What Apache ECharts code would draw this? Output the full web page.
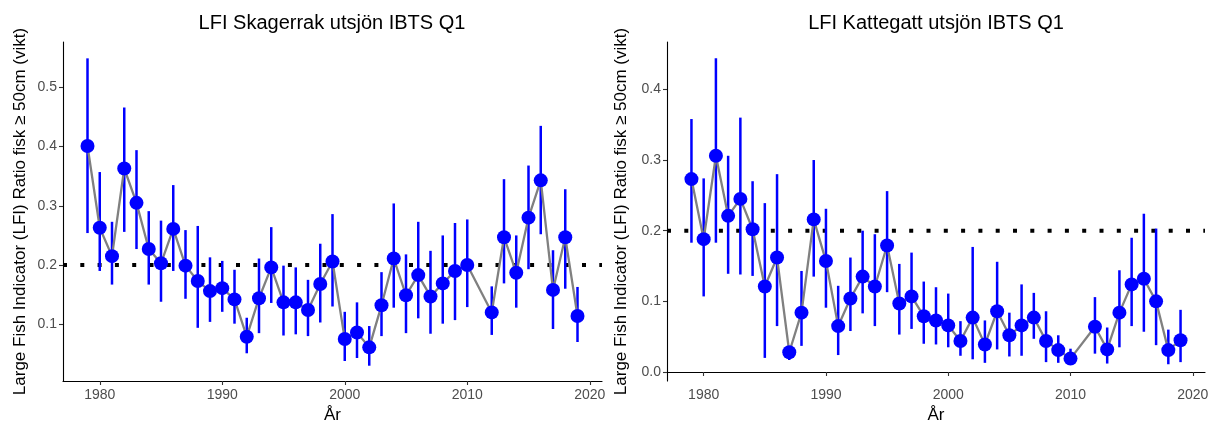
<!DOCTYPE html>
<html>
<head>
<meta charset="utf-8">
<script src="https://cdn.jsdelivr.net/npm/echarts@6/dist/echarts.min.js"></script>
<style>
html,body{margin:0;padding:0;background:#fff;}
#chart{width:1217px;height:423px;}
</style>
</head>
<body>
<div id="chart"></div>
<script>
// ---- Data ----
const skTitle = 'LFI Skagerrak utsjön IBTS Q1';
const kgTitle = 'LFI Kattegatt utsjön IBTS Q1';
const yLabel = 'Large Fish Indicator (LFI) Ratio fisk ≥ 50cm (vikt)';
const xLabel = 'År';
const refLevel = 0.2;

const skYears = [1979,1980,1981,1982,1983,1984,1985,1986,1987,1988,1989,1990,1991,1992,1993,1994,1995,1996,1997,1998,1999,
  2000,2001,2002,2003,2004,2005,2006,2007,2008,2009,2010,
  2012,2013,2014,2015,2016,2017,2018,2019];
const skLfi = [0.401,0.263,0.215,0.363,0.305,0.227,0.203,0.261,0.199,0.173,0.156,0.161,0.142,0.079,0.144,0.196,0.137,0.137,0.124,0.168,0.206,
  0.075,0.086,0.061,0.132,0.211,0.149,0.183,0.147,0.169,0.190,0.200,
  0.120,0.247,0.187,0.280,0.343,0.158,0.247,0.114];
const skLow = [0.254,0.190,0.167,0.256,0.227,0.167,0.138,0.190,0.143,0.094,0.104,0.121,0.101,0.051,0.085,0.136,0.081,0.083,0.080,0.103,0.130,
  0.038,0.043,0.030,0.080,0.128,0.085,0.110,0.084,0.101,0.107,0.129,
  0.082,0.169,0.128,0.193,0.252,0.092,0.160,0.070];
const skHigh = [0.549,0.357,0.273,0.466,0.394,0.291,0.275,0.335,0.259,0.266,0.213,0.207,0.192,0.111,0.211,0.264,0.199,0.196,0.175,0.236,0.286,
  0.121,0.137,0.097,0.188,0.304,0.218,0.273,0.224,0.250,0.271,0.277,
  0.164,0.345,0.250,0.368,0.435,0.225,0.328,0.163];

const kgYears = [1979,1980,1981,1982,1983,1984,1985,1986,1987,1988,1989,1990,1991,1992,1993,1994,1995,1996,1997,1998,1999,
  2000,2001,2002,2003,2004,2005,2006,2007,2008,2009,2010,
  2012,2013,2014,2015,2016,2017,2018,2019];
const kgLfi = [0.273,0.188,0.306,0.221,0.245,0.202,0.121,0.162,0.028,0.084,0.216,0.157,0.065,0.104,0.135,0.121,0.179,0.097,0.107,0.079,0.073,
  0.066,0.044,0.077,0.039,0.086,0.052,0.066,0.077,0.044,0.031,0.019,
  0.064,0.032,0.084,0.124,0.132,0.100,0.031,0.045];
const kgLow = [0.183,0.107,0.183,0.139,0.138,0.136,0.020,0.065,0.017,0.037,0.135,0.091,0.024,0.058,0.083,0.065,0.113,0.053,0.061,0.040,0.039,
  0.035,0.023,0.018,0.013,0.032,0.022,0.023,0.047,0.014,0.013,0.011,
  0.026,0.012,0.035,0.065,0.057,0.038,0.011,0.014];
const kgHigh = [0.358,0.274,0.444,0.306,0.360,0.270,0.239,0.280,0.036,0.143,0.300,0.231,0.122,0.162,0.200,0.195,0.256,0.153,0.169,0.128,0.120,
  0.111,0.072,0.177,0.073,0.156,0.084,0.124,0.112,0.086,0.052,0.033,
  0.106,0.063,0.144,0.190,0.224,0.203,0.060,0.088];

const xTicks = [1980,1990,2000,2010,2020];
const skYTicks = [0.1,0.2,0.3,0.4,0.5];
const kgYTicks = [0.0,0.1,0.2,0.3,0.4];

// ---- Chart ----
const FONT = '"Liberation Sans", Arial, sans-serif';
const SZ = {tick:14, name:17, title:20};
const chart = echarts.init(document.getElementById('chart'), null, {renderer:'canvas'});

function xAxis(gi) {
  return {
    type:'value', gridIndex:gi, min:1977, max:2021,
    name: xLabel, nameLocation:'middle', nameGap:23,
    nameTextStyle:{color:'#000', fontSize:SZ.name, fontFamily:FONT},
    axisLine:{show:true, lineStyle:{color:'#000', width:1.1}},
    axisTick:{show:true, length:4, customValues:xTicks, lineStyle:{color:'#333', width:1.1}},
    axisLabel:{customValues:xTicks, color:'#4d4d4d', fontSize:SZ.tick, fontFamily:FONT, margin:7,
      formatter:v => String(v)},
    splitLine:{show:false}
  };
}
function yAxis(gi, min, max, ticks, gap) {
  return {
    type:'value', gridIndex:gi, min:min, max:max,
    name: yLabel, nameLocation:'middle', nameGap:gap, nameRotate:90,
    nameTextStyle:{color:'#000', fontSize:SZ.name, fontFamily:FONT},
    axisLine:{show:true, lineStyle:{color:'#000', width:1.1}},
    axisTick:{show:true, length:4, customValues:ticks, lineStyle:{color:'#333', width:1.1}},
    axisLabel:{customValues:ticks, color:'#4d4d4d', fontSize:SZ.tick, fontFamily:FONT, margin:6,
      formatter:v => v.toFixed(1)},
    splitLine:{show:false}
  };
}
function seriesFor(gi, years, lfi, low, high) {
  const errData = years.map((y,i)=>[y, low[i], high[i]]);
  const ptData = years.map((y,i)=>[y, lfi[i]]);
  return [
    {type:'line', xAxisIndex:gi, yAxisIndex:gi, data:[[1977,refLevel],[2021,refLevel]],
      symbol:'none', silent:true, z:1,
      lineStyle:{color:'#000', width:4, type:[4,13.3], cap:'butt'}},
    {type:'custom', xAxisIndex:gi, yAxisIndex:gi, data:errData, z:2,
      renderItem:(params, api)=>{
        const p1 = api.coord([api.value(0), api.value(1)]);
        const p2 = api.coord([api.value(0), api.value(2)]);
        return {type:'line', shape:{x1:p1[0], y1:p1[1], x2:p2[0], y2:p2[1]},
          style:{stroke:'#0000ff', lineWidth:2.5}};
      }},
    {type:'line', xAxisIndex:gi, yAxisIndex:gi, data:ptData, symbol:'none', z:3,
      lineStyle:{color:'#808080', width:2.3}},
    {type:'scatter', xAxisIndex:gi, yAxisIndex:gi, data:ptData, symbol:'circle', symbolSize:14, z:4,
      itemStyle:{color:'#0000ff', opacity:1}}
  ];
}

chart.setOption({
  animation:false,
  backgroundColor:'#fff',
  grid:[
    {left:63, top:42, width:539, height:339, containLabel:false, outerBoundsMode:'none'},
    {left:667, top:42, width:538, height:339, containLabel:false, outerBoundsMode:'none'}
  ],
  xAxis:[xAxis(0), xAxis(1)],
  yAxis:[yAxis(0, 0.0042, 0.5766, skYTicks, 34), yAxis(1, -0.0127, 0.467, kgYTicks, 37)],
  graphic:[
    {type:'text', x:332, y:23, style:{text:skTitle, textAlign:'center', textVerticalAlign:'middle', font:SZ.title + 'px ' + FONT, fill:'#000'}},
    {type:'text', x:936, y:23, style:{text:kgTitle, textAlign:'center', textVerticalAlign:'middle', font:SZ.title + 'px ' + FONT, fill:'#000'}}
  ],
  series:[].concat(seriesFor(0, skYears, skLfi, skLow, skHigh), seriesFor(1, kgYears, kgLfi, kgLow, kgHigh))
});
</script>
</body>
</html>
